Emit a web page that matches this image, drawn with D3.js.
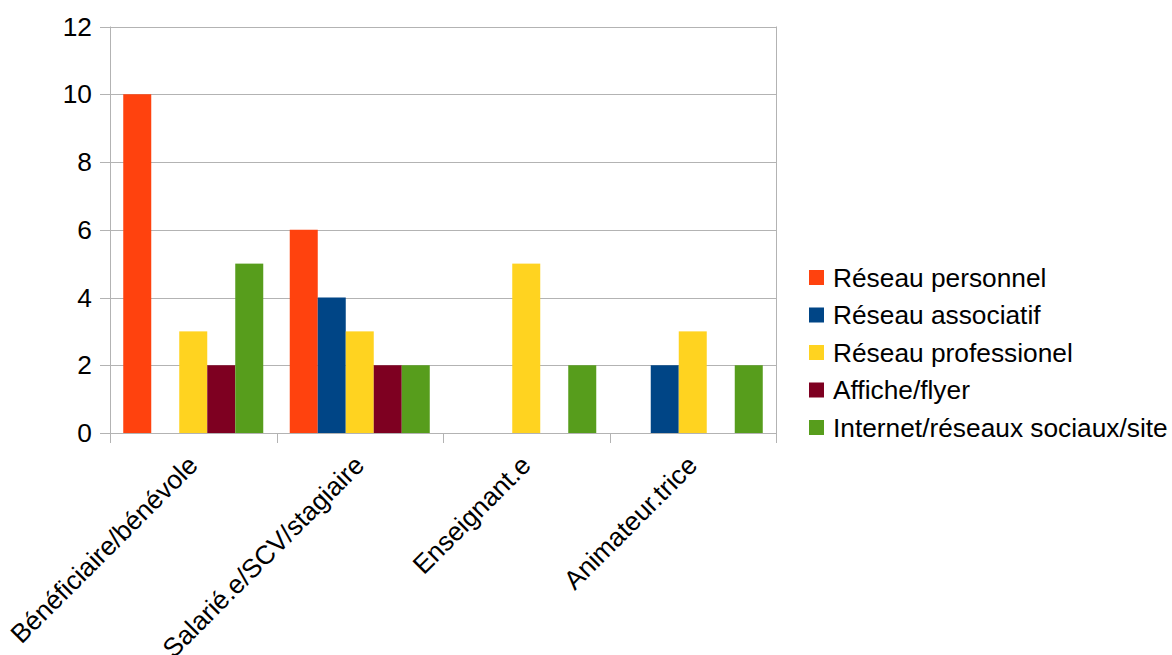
<!DOCTYPE html>
<html><head><meta charset="utf-8">
<script src="https://cdn.jsdelivr.net/npm/d3@7"></script>
<style>body{margin:0;background:#fff}svg{display:block}text{font-family:"Liberation Sans",Arial,sans-serif;fill:#000}</style>
</head><body><svg id="c" width="1172" height="655"></svg>
<script>
const categories = ["Bénéficiaire/bénévole","Salarié.e/SCV/stagiaire","Enseignant.e","Animateur.trice"];
const seriesNames = ["Réseau personnel","Réseau associatif","Réseau professionel","Affiche/flyer","Internet/réseaux sociaux/site"];
const reseauPersonnel = [10,6,0,0];
const reseauAssociatif = [0,4,0,2];
const reseauProfessionel = [3,3,5,3];
const afficheFlyer = [2,2,0,0];
const internet = [5,2,2,2];
const yTicks = [0,2,4,6,8,10,12];
const colors = ["#ff420e","#004586","#ffd320","#7e0021","#579d1c"];
const seriesValues = [reseauPersonnel,reseauAssociatif,reseauProfessionel,afficheFlyer,internet];

const svg = d3.select("#c");
const L=110,R=776,T=26.5,B=433;
const FS=26.3;
const x = d3.scaleBand().domain(categories).range([L,R]).paddingInner(0).paddingOuter(0);
const xs = d3.scaleBand().domain(d3.range(5)).range([0,x.bandwidth()]).paddingInner(0).paddingOuter(0.473);
const y = d3.scaleLinear().domain([0,12]).range([B,T]);

svg.append("g").selectAll("line").data(yTicks).join("line")
  .attr("x1",L-10).attr("x2",R).attr("y1",d=>Math.round(y(d))+0.5).attr("y2",d=>Math.round(y(d))+0.5)
  .attr("stroke","#b3b3b3").attr("stroke-width",1);
svg.append("line").attr("x1",R+0.5).attr("x2",R+0.5).attr("y1",T).attr("y2",B).attr("stroke","#b3b3b3");
svg.append("line").attr("x1",L+0.5).attr("x2",L+0.5).attr("y1",T).attr("y2",B+10).attr("stroke","#b3b3b3");
const bounds = categories.map(c=>x(c)).concat([R]);
svg.append("g").selectAll("line").data(bounds).join("line")
  .attr("x1",d=>Math.round(d)+0.5).attr("x2",d=>Math.round(d)+0.5).attr("y1",B).attr("y2",B+10).attr("stroke","#b3b3b3");

seriesValues.forEach((vals,si)=>{
  svg.append("g").selectAll("rect").data(vals.map((v,i)=>({v,c:categories[i]}))).join("rect")
    .attr("x",d=>x(d.c)+xs(si)).attr("width",xs.bandwidth())
    .attr("y",d=>y(d.v)).attr("height",d=>y(0)-y(d.v)).attr("fill",colors[si]);
});

svg.append("g").selectAll("text").data(yTicks).join("text")
  .attr("x",92).attr("y",d=>y(d)).attr("dy","0.35em").attr("text-anchor","end")
  .attr("font-size",FS).text(d=>d);

svg.append("g").selectAll("text").data(categories).join("text")
  .attr("transform",d=>`translate(${x(d)+x.bandwidth()/2+6},${B+34}) rotate(-45)`)
  .attr("text-anchor","end").attr("font-size",FS).text(d=>d);

const lg = svg.append("g").attr("transform","translate(809,0)");
seriesNames.forEach((n,i)=>{
  const cy = 277.5 + i*37.5;
  lg.append("rect").attr("x",0).attr("y",cy-7.5).attr("width",15).attr("height",15).attr("fill",colors[i]);
  lg.append("text").attr("x",24).attr("y",cy).attr("dy","0.35em").attr("font-size",FS).text(n);
});
</script></body></html>
